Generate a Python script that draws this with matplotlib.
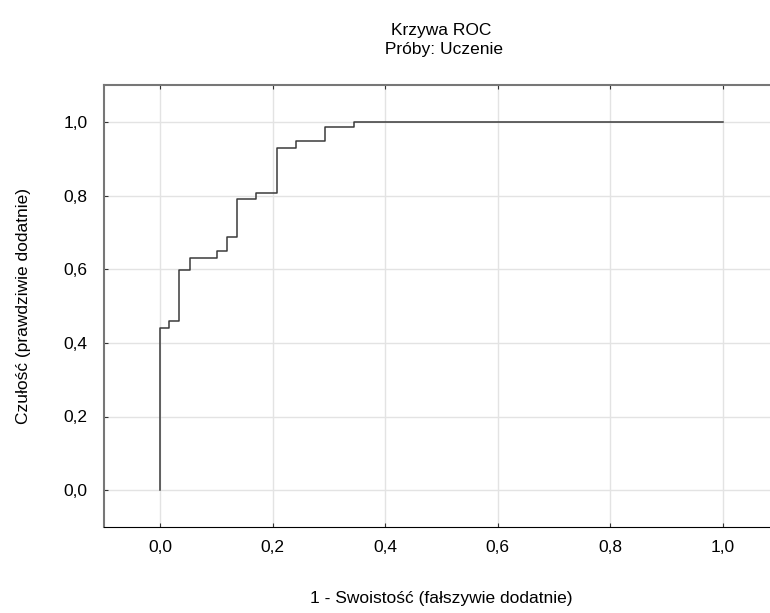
import matplotlib.pyplot as plt
import numpy as np

# ---------------- Data ----------------
fpr = [0.0, 0.0, 0.015, 0.033, 0.052, 0.101, 0.119, 0.137, 0.171, 0.207, 0.241, 0.293, 0.345, 1.0]
tpr = [0.0, 0.44, 0.458, 0.597, 0.631, 0.649, 0.687, 0.79, 0.808, 0.929, 0.948, 0.985, 1.0, 1.0]
ticks = [0.0, 0.2, 0.4, 0.6, 0.8, 1.0]
tick_labels = ["0,0", "0,2", "0,4", "0,6", "0,8", "1,0"]

plt.rcParams['font.family'] = ['Liberation Sans', 'DejaVu Sans']
fs = 12.5

fig = plt.figure(figsize=(7.7, 6.13), dpi=100)
ax = fig.add_axes([104/770, 86/613, 675/770, 442/613])

ax.step(fpr, tpr, where='post', color='#3a3a3a', lw=1.1)

ax.set_xlim(-0.1, 1.1)
ax.set_ylim(-0.1, 1.1)
ax.set_xticks(ticks, labels=tick_labels)
ax.set_yticks(ticks, labels=tick_labels)
ax.tick_params(direction='in', length=3, labelsize=fs, colors='#333333', top=True, right=False)
ax.tick_params(axis='x', pad=9.5, labelcolor='black')
ax.tick_params(axis='y', pad=12, labelcolor='black')
ax.grid(True, color='#e3e3e3', lw=1)
ax.set_axisbelow(True)

for s in ['left', 'top']:
    ax.spines[s].set_color('#777777')
    ax.spines[s].set_linewidth(1.5)
ax.spines['bottom'].set_color('black')
ax.spines['right'].set_visible(False)

ax.set_title("Krzywa ROC\n Próby: Uczenie", fontsize=fs, pad=22, linespacing=1.35)
ax.set_xlabel("1 - Swoistość (fałszywie dodatnie)", fontsize=fs, labelpad=26)
ax.set_ylabel("Czułość (prawdziwie dodatnie)", fontsize=fs, labelpad=23)

fig.savefig("out.png", dpi=100)
